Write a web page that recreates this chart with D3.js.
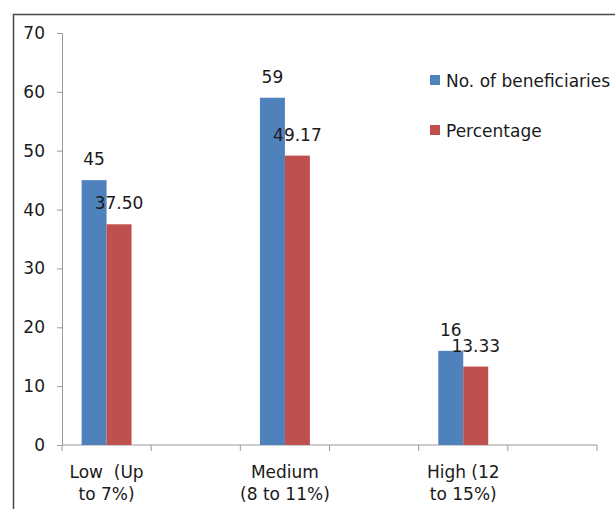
<!DOCTYPE html>
<html>
<head>
<meta charset="utf-8">
<script src="https://cdn.jsdelivr.net/npm/d3@7"></script>
<style>
  html, body { margin: 0; padding: 0; background: #fff; }
  svg { display: block; font-family: "DejaVu Sans", sans-serif; }
</style>
</head>
<body>
<svg id="chart" width="615" height="509"></svg>
<script>
// Category slots along the x axis (blank slots act as spacers)
const categories = ["Low  (Up\nto 7%)", "", "Medium\n(8 to 11%)", "", "High (12\nto 15%)", ""];
const seriesNames = ["No. of beneficiaries", "Percentage"];
const beneficiaries = [45, null, 59, null, 16, null];
const percentage = [37.50, null, 49.17, null, 13.33, null];
const yTicks = [0, 10, 20, 30, 40, 50, 60, 70];
const colors = ["#4F81BD", "#C0504D"];

const svg = d3.select("#chart");
const W = 615, H = 509;
const plot = { left: 62, right: 597, top: 33, bottom: 445 };

// Chart area frame
svg.append("path")
  .attr("d", `M13.5,${H} L13.5,14.5 L${W},14.5`)
  .attr("fill", "none")
  .attr("stroke", "#4a4a4a")
  .attr("stroke-width", 1.5);

const x = d3.scaleBand()
  .domain(d3.range(categories.length))
  .range([plot.left, plot.right]);

const bw = x.bandwidth();
const gap = bw * 0.22;
const xs = d3.scaleBand()
  .domain(seriesNames)
  .range([gap, bw - gap]);

const y = d3.scaleLinear()
  .domain([0, 70])
  .range([plot.bottom, plot.top]);

const axisColor = "#9a9a9a";
const textColor = "#1a1a1a";

// Y axis
const yAxis = svg.append("g")
  .attr("transform", `translate(${plot.left},0)`)
  .call(d3.axisLeft(y).tickValues(yTicks).tickSize(5).tickPadding(12).tickFormat(d3.format("d")));
yAxis.select(".domain").attr("stroke", axisColor);
yAxis.selectAll(".tick line").attr("stroke", axisColor);
yAxis.selectAll(".tick text")
  .attr("fill", textColor)
  .style("font-size", "17px")
  .style("font-family", "DejaVu Sans, sans-serif");

// X axis line with tick marks between category slots
const xg = svg.append("g");
xg.append("line")
  .attr("x1", plot.left).attr("x2", plot.right)
  .attr("y1", y(0)).attr("y2", y(0))
  .attr("stroke", axisColor);
const boundaries = x.domain().map(i => x(i)).concat([x.range()[1]]);
xg.selectAll("line.tk")
  .data(boundaries)
  .join("line")
  .attr("class", "tk")
  .attr("x1", d => d).attr("x2", d => d)
  .attr("y1", y(0)).attr("y2", y(0) + 6)
  .attr("stroke", axisColor);

// Category labels (two lines each)
const labelG = svg.append("g")
  .attr("fill", textColor)
  .style("font-size", "17px");
categories.forEach((c, i) => {
  if (!c) return;
  const t = labelG.append("text")
    .attr("text-anchor", "middle")
    .attr("xml:space", "preserve")
    .style("white-space", "pre");
  c.split("\n").forEach((line, j) => {
    t.append("tspan")
      .attr("x", x(i) + bw / 2)
      .attr("y", 478 + j * 22)
      .text(line);
  });
});

// Bars
const seriesValues = [beneficiaries, percentage];
const rows = [];
categories.forEach((c, i) => {
  seriesNames.forEach((s, k) => {
    const v = seriesValues[k][i];
    if (v != null) rows.push({ i, s, k, v });
  });
});

svg.append("g")
  .selectAll("rect")
  .data(rows)
  .join("rect")
  .attr("x", d => x(d.i) + xs(d.s))
  .attr("y", d => y(d.v))
  .attr("width", xs.bandwidth())
  .attr("height", d => y(0) - y(d.v))
  .attr("fill", d => colors[d.k]);

// Value labels above bars
svg.append("g")
  .attr("fill", textColor)
  .style("font-size", "17px")
  .selectAll("text")
  .data(rows)
  .join("text")
  .attr("text-anchor", "middle")
  .attr("x", d => x(d.i) + xs(d.s) + xs.bandwidth() / 2)
  .attr("y", d => y(d.v) - 15)
  .text(d => d.k === 0 ? d3.format("d")(d.v) : d.v.toFixed(2));

// Legend
const legend = svg.append("g")
  .attr("transform", "translate(430,75)");
seriesNames.forEach((s, k) => {
  const g = legend.append("g").attr("transform", `translate(0,${k * 50})`);
  g.append("rect").attr("width", 10).attr("height", 10).attr("fill", colors[k]);
  g.append("text")
    .attr("x", 16).attr("y", 12)
    .attr("fill", textColor)
    .style("font-size", "17px")
    .text(s);
});
</script>
</body>
</html>
